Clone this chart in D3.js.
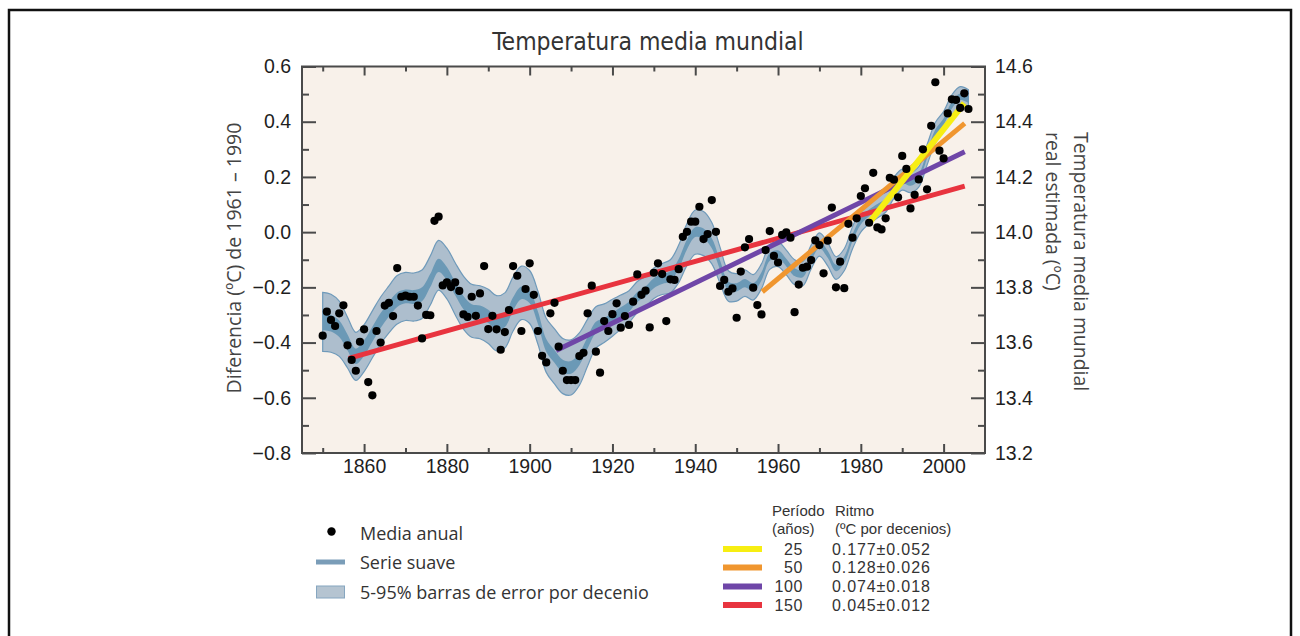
<!DOCTYPE html>
<html>
<head>
  <meta charset="utf-8">
  <title>Temperatura media mundial</title>
  <style>
    body { margin: 0; background: #fff; }
    svg { display: block; }
  </style>
</head>
<body>
  <div id="chart"></div>

  <script src="https://d3js.org/d3.v7.min.js"></script>
  <script>
    // Media anual (ºC respecto a 1961-1990), 1850-2006
    const annualYears = d3.range(1850, 2007);
    const annualValues = [
      -0.375, -0.288, -0.318, -0.340, -0.294, -0.265, -0.410, -0.463, -0.502, -0.397,
      -0.352, -0.543, -0.591, -0.358, -0.400, -0.266, -0.256, -0.304, -0.130, -0.234,
      -0.230, -0.234, -0.234, -0.266, -0.385, -0.300, -0.301, 0.041, 0.056, -0.193,
      -0.182, -0.199, -0.182, -0.213, -0.298, -0.307, -0.234, -0.303, -0.222, -0.123,
      -0.351, -0.303, -0.352, -0.426, -0.362, -0.282, -0.123, -0.158, -0.358, -0.206,
      -0.113, -0.227, -0.358, -0.448, -0.472, -0.294, -0.256, -0.415, -0.502, -0.536,
      -0.536, -0.536, -0.449, -0.437, -0.294, -0.194, -0.433, -0.509, -0.322, -0.358,
      -0.297, -0.258, -0.346, -0.304, -0.336, -0.252, -0.153, -0.227, -0.212, -0.345,
      -0.147, -0.113, -0.152, -0.322, -0.171, -0.173, -0.134, -0.017, 0.001, 0.038,
      0.038, 0.092, -0.025, -0.007, 0.116, 0.001, -0.195, -0.173, -0.216, -0.204,
      -0.310, -0.143, -0.055, -0.025, -0.201, -0.264, -0.298, -0.065, 0.004, -0.086,
      -0.110, -0.010, -0.001, -0.020, -0.290, -0.190, -0.129, -0.125, -0.101, -0.030,
      -0.047, -0.149, -0.031, 0.089, -0.200, -0.107, -0.203, 0.030, -0.020, 0.050,
      0.131, 0.159, 0.034, 0.215, 0.017, 0.010, 0.050, 0.197, 0.190, 0.126,
      0.276, 0.229, 0.086, 0.135, 0.191, 0.300, 0.155, 0.385, 0.543, 0.295,
      0.267, 0.430, 0.481, 0.479, 0.450, 0.503, 0.446
    ];

    // Serie suave y semianchos de las bandas (cada 2 años)
    const smoothYears = [
      1850, 1852, 1854, 1856, 1858, 1860, 1862, 1864, 1866, 1868,
      1870, 1872, 1874, 1876, 1878, 1880, 1882, 1884, 1886, 1888,
      1890, 1892, 1894, 1896, 1898, 1900, 1902, 1904, 1906, 1908,
      1910, 1912, 1914, 1916, 1918, 1920, 1922, 1924, 1926, 1928,
      1930, 1932, 1934, 1936, 1938, 1940, 1942, 1944, 1946, 1948,
      1950, 1952, 1954, 1956, 1958, 1960, 1962, 1964, 1966, 1968,
      1970, 1972, 1974, 1976, 1978, 1980, 1982, 1984, 1986, 1988,
      1990, 1992, 1994, 1996, 1998, 2000, 2002, 2004, 2006
    ];
    const smoothValues = [
      -0.325, -0.330, -0.350, -0.400, -0.450, -0.420, -0.370, -0.320, -0.280, -0.245,
      -0.233, -0.235, -0.225, -0.175, -0.120, -0.150, -0.205, -0.255, -0.285, -0.290,
      -0.305, -0.330, -0.320, -0.260, -0.220, -0.235, -0.310, -0.410, -0.450, -0.485,
      -0.490, -0.460, -0.400, -0.345, -0.330, -0.310, -0.290, -0.270, -0.235, -0.215,
      -0.185, -0.170, -0.160, -0.115, -0.045, 0.000, -0.005, -0.040, -0.120, -0.195,
      -0.200, -0.185, -0.200, -0.160, -0.090, -0.080, -0.110, -0.145, -0.150, -0.090,
      -0.045, -0.080, -0.130, -0.100, -0.020, 0.040, 0.070, 0.090, 0.110, 0.160,
      0.190, 0.180, 0.200, 0.280, 0.360, 0.400, 0.460, 0.490, 0.480
    ];
    const errorHalf = [
      0.107, 0.105, 0.100, 0.092, 0.087, 0.085, 0.085, 0.085, 0.085, 0.088,
      0.087, 0.087, 0.088, 0.089, 0.090, 0.092, 0.094, 0.096, 0.096, 0.096,
      0.098, 0.100, 0.100, 0.098, 0.097, 0.096, 0.096, 0.098, 0.100, 0.100,
      0.100, 0.095, 0.085, 0.075, 0.070, 0.067, 0.062, 0.058, 0.056, 0.055,
      0.055, 0.056, 0.060, 0.068, 0.076, 0.080, 0.080, 0.075, 0.065, 0.055,
      0.050, 0.048, 0.046, 0.045, 0.045, 0.045, 0.045, 0.045, 0.044, 0.043,
      0.042, 0.042, 0.041, 0.040, 0.040, 0.040, 0.040, 0.039, 0.038, 0.038,
      0.038, 0.037, 0.037, 0.037, 0.037, 0.037, 0.037, 0.037, 0.036
    ];
    const smoothHalf = [
      0.030, 0.030, 0.030, 0.029, 0.028, 0.028, 0.027, 0.027, 0.026, 0.026,
      0.025, 0.025, 0.025, 0.024, 0.024, 0.024, 0.024, 0.024, 0.024, 0.024,
      0.024, 0.024, 0.024, 0.024, 0.023, 0.023, 0.023, 0.023, 0.023, 0.023,
      0.023, 0.022, 0.021, 0.020, 0.019, 0.018, 0.018, 0.018, 0.018, 0.018,
      0.018, 0.018, 0.018, 0.018, 0.018, 0.018, 0.018, 0.018, 0.017, 0.016,
      0.015, 0.015, 0.015, 0.015, 0.014, 0.014, 0.014, 0.014, 0.013, 0.013,
      0.013, 0.013, 0.012, 0.012, 0.012, 0.012, 0.012, 0.012, 0.012, 0.012,
      0.012, 0.012, 0.012, 0.012, 0.012, 0.012, 0.012, 0.012, 0.012
    ];

    // Tendencias lineales
    const trendPeriods = ["25", "50", "100", "150"];
    const trendRates = ["0.177±0.052", "0.128±0.026", "0.074±0.018", "0.045±0.012"];
    const trendStartYear = [1981.9, 1956.2, 1906.4, 1856.3];
    const trendEndYear = [2005.0, 2005.1, 2005.1, 2005.1];
    const trendStartValue = [0.032, -0.216, -0.429, -0.457];
    const trendEndValue = [0.467, 0.394, 0.291, 0.167];
    const trendColors = ["#f7ee12", "#f0962f", "#6f46a8", "#e8343f"];

    const xTickLabels = [1860, 1880, 1900, 1920, 1940, 1960, 1980, 2000];
    const yTickLabels = [-0.8, -0.6, -0.4, -0.2, 0.0, 0.2, 0.4, 0.6];
    const yRightTickLabels = [13.2, 13.4, 13.6, 13.8, 14.0, 14.2, 14.4, 14.6];

    const width = 1300, height = 636;
    const plotLeft = 302, plotRight = 985, plotTop = 66.5, plotBottom = 453;

    const svg = d3.select("#chart").append("svg")
      .attr("width", width)
      .attr("height", height);

    // marco exterior
    svg.append("rect")
      .attr("x", 9).attr("y", 10)
      .attr("width", 1282).attr("height", 640)
      .attr("fill", "none")
      .attr("stroke", "#111")
      .attr("stroke-width", 2.5);

    const x = d3.scaleLinear().domain([1845, 2010]).range([plotLeft, plotRight]);
    const y = d3.scaleLinear().domain([-0.8, 0.6]).range([plotBottom, plotTop]);
    const yRight = d3.scaleLinear().domain([13.2, 14.6]).range([plotBottom, plotTop]);

    // fondo del área
    svg.append("rect")
      .attr("x", plotLeft).attr("y", plotTop)
      .attr("width", plotRight - plotLeft).attr("height", plotBottom - plotTop)
      .attr("fill", "#f8f1ea");

    const smooth = smoothYears.map((yr, i) => ({
      year: yr, v: smoothValues[i], e: errorHalf[i], s: smoothHalf[i]
    }));

    const curve = d3.curveCatmullRom.alpha(0.5);

    svg.append("path")
      .datum(smooth)
      .attr("d", d3.area().curve(curve)
        .x(d => x(d.year))
        .y0(d => y(d.v - d.e))
        .y1(d => y(d.v + d.e)))
      .attr("fill", "#adbecd")
      .attr("stroke", "#6f9aba")
      .attr("stroke-width", 1.2);

    svg.append("path")
      .datum(smooth)
      .attr("d", d3.area().curve(curve)
        .x(d => x(d.year))
        .y0(d => y(d.v - d.s))
        .y1(d => y(d.v + d.s)))
      .attr("fill", "#6b99b6");

    // tendencias
    const trends = trendPeriods.map((p, i) => ({
      x1: trendStartYear[i], x2: trendEndYear[i],
      y1: trendStartValue[i], y2: trendEndValue[i], color: trendColors[i], i: i
    })).reverse();

    svg.selectAll("line.trend")
      .data(trends)
      .enter().append("line")
      .attr("class", "trend")
      .attr("x1", d => x(d.x1)).attr("y1", d => y(d.y1))
      .attr("x2", d => x(d.x2)).attr("y2", d => y(d.y2))
      .attr("stroke", d => d.color)
      .attr("stroke-width", d => d.i === 0 ? 6 : 5);

    // puntos anuales
    svg.selectAll("circle.anual")
      .data(annualYears.map((yr, i) => ({ year: yr, v: annualValues[i] })))
      .enter().append("circle")
      .attr("class", "anual")
      .attr("cx", d => x(d.year))
      .attr("cy", d => y(d.v))
      .attr("r", 4.1)
      .attr("fill", "#000");

    // ejes
    const axisColor = "#4a4a4a";
    const tickFont = "'Liberation Sans', Arial, sans-serif";

    function styleAxis(g) {
      g.select(".domain").remove();
      g.selectAll(".tick line").attr("stroke", axisColor).attr("stroke-width", 2);
      g.selectAll(".tick text")
        .attr("fill", "#1e1e1e")
        .style("font-family", tickFont)
        .style("font-size", "19.5px");
    }

    const minorY = d3.range(-0.7, 0.6, 0.2);
    const minorX = d3.range(1850, 2010, 20);

    svg.append("g")
      .attr("transform", `translate(${plotLeft},0)`)
      .call(d3.axisLeft(y).tickValues(yTickLabels).tickSize(-14).tickPadding(11)
        .tickFormat(d3.format(".1f")))
      .call(styleAxis);
    svg.append("g")
      .attr("transform", `translate(${plotLeft},0)`)
      .call(d3.axisLeft(y).tickValues(minorY).tickSize(-7).tickFormat(""))
      .call(styleAxis);

    svg.append("g")
      .attr("transform", `translate(${plotRight},0)`)
      .call(d3.axisRight(yRight).tickValues(yRightTickLabels).tickSize(-14).tickPadding(10)
        .tickFormat(d3.format(".1f")))
      .call(styleAxis);
    svg.append("g")
      .attr("transform", `translate(${plotRight},0)`)
      .call(d3.axisRight(yRight).tickValues(minorY.map(v => v + 14)).tickSize(-7).tickFormat(""))
      .call(styleAxis);

    svg.append("g")
      .attr("transform", `translate(0,${plotBottom})`)
      .call(d3.axisBottom(x).tickValues(xTickLabels).tickSize(-9).tickPadding(6)
        .tickFormat(d3.format("d")))
      .call(styleAxis);
    svg.append("g")
      .attr("transform", `translate(0,${plotBottom})`)
      .call(d3.axisBottom(x).tickValues(minorX).tickSize(-5).tickFormat(""))
      .call(styleAxis);

    svg.append("g")
      .attr("transform", `translate(0,${plotTop})`)
      .call(d3.axisTop(x).tickValues(xTickLabels).tickSize(-9).tickFormat(""))
      .call(styleAxis);
    svg.append("g")
      .attr("transform", `translate(0,${plotTop})`)
      .call(d3.axisTop(x).tickValues(minorX).tickSize(-5).tickFormat(""))
      .call(styleAxis);

    // marco del área
    svg.append("rect")
      .attr("x", plotLeft).attr("y", plotTop)
      .attr("width", plotRight - plotLeft).attr("height", plotBottom - plotTop)
      .attr("fill", "none")
      .attr("stroke", axisColor)
      .attr("stroke-width", 2);

    // títulos
    const textFont = "'Open Sans', 'Noto Sans', sans-serif";
    const legendFont = "'Liberation Sans', Arial, sans-serif";

    svg.append("text")
      .attr("x", 648).attr("y", 50)
      .attr("text-anchor", "middle")
      .style("font-family", "'DejaVu Sans', sans-serif")
      .style("font-stretch", "condensed")
      .style("font-size", "24.5px")
      .attr("fill", "#333")
      .text("Temperatura media mundial");

    svg.append("text")
      .attr("transform", "translate(241,258) rotate(-90)")
      .attr("text-anchor", "middle")
      .style("font-family", textFont)
      .style("font-size", "19.5px")
      .attr("fill", "#444")
      .text("Diferencia (ºC) de 1961 – 1990");

    const rightTitle = svg.append("text")
      .attr("transform", "translate(1074,132) rotate(90)")
      .style("font-family", textFont)
      .style("font-size", "19.4px")
      .attr("fill", "#444");
    rightTitle.append("tspan").attr("x", 0).attr("y", 0).text("Temperatura media mundial");
    rightTitle.append("tspan").attr("x", 0).attr("y", 28).text("real estimada (ºC)");

    // leyenda izquierda
    const legLeft = svg.append("g")
      .style("font-family", textFont)
      .style("font-size", "18px")
      .attr("fill", "#333");

    legLeft.append("circle").attr("cx", 331.5).attr("cy", 531.5).attr("r", 4.2).attr("fill", "#000");
    legLeft.append("text").attr("x", 360).attr("y", 540).text("Media anual");

    legLeft.append("line")
      .attr("x1", 316).attr("x2", 345).attr("y1", 562).attr("y2", 562)
      .attr("stroke", "#7a9db8").attr("stroke-width", 5);
    legLeft.append("text").attr("x", 360).attr("y", 568.5).text("Serie suave");

    legLeft.append("rect")
      .attr("x", 316.5).attr("y", 586).attr("width", 28).attr("height", 12)
      .attr("fill", "#b5c4d1").attr("stroke", "#86a6c0").attr("stroke-width", 1);
    legLeft.append("text").attr("x", 360).attr("y", 598.5).text("5-95% barras de error por decenio");

    // leyenda derecha
    const legRight = svg.append("g")
      .style("font-family", legendFont)
      .style("font-size", "15px")
      .attr("fill", "#333");

    legRight.append("text").attr("x", 772).attr("y", 515.5).text("Período");
    legRight.append("text").attr("x", 835).attr("y", 515.5).text("Ritmo");
    legRight.append("text").attr("x", 772).attr("y", 534).text("(años)");
    legRight.append("text").attr("x", 835).attr("y", 534).text("(ºC por decenios)");

    const rowY = [549, 567.5, 586.5, 605];
    trendPeriods.forEach((p, i) => {
      legRight.append("line")
        .attr("x1", 723).attr("x2", 762)
        .attr("y1", rowY[i]).attr("y2", rowY[i])
        .attr("stroke", trendColors[i]).attr("stroke-width", 6);
      legRight.append("text")
        .attr("x", 803).attr("y", rowY[i] + 5.5)
        .attr("text-anchor", "end")
        .style("font-size", "16px")
        .style("letter-spacing", "0.6px")
        .text(p);
      legRight.append("text")
        .attr("x", 832).attr("y", rowY[i] + 5.5)
        .style("font-size", "16px")
        .style("letter-spacing", "0.9px")
        .text(trendRates[i]);
    });
  </script>
</body>
</html>
